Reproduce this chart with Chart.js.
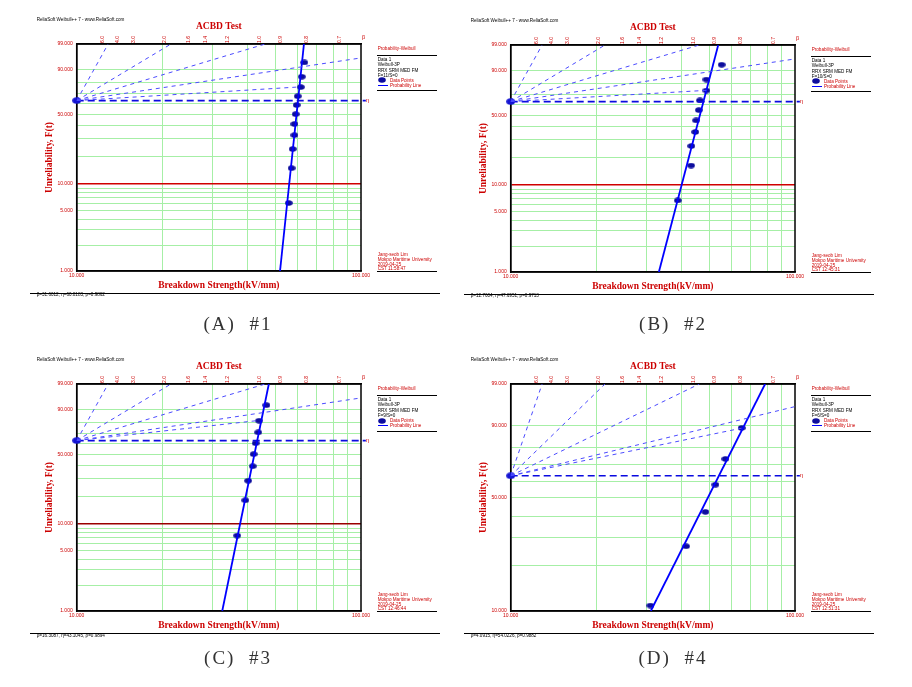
<!DOCTYPE html>
<html><head><meta charset="utf-8">
<script src="https://cdn.jsdelivr.net/npm/chart.js@4.4.1/dist/chart.umd.min.js"></script>
<style>
html,body{margin:0;padding:0;background:#fff}
body{width:912px;height:687px;position:relative;overflow:hidden}
.panel{position:absolute;width:412px;height:300px}
.panel canvas{position:absolute;left:0;top:0}
.s{position:absolute;white-space:nowrap;font-family:'Liberation Sans',Arial,sans-serif;font-size:4.6px;line-height:5px;color:#000}
.r{color:#cc0000}
.hr{position:absolute;height:0;border-top:1.3px solid #000}
.cap{position:absolute;width:200px;text-align:center;font-family:'Liberation Serif','DejaVu Serif',serif;font-size:19px;line-height:24px;color:#333;letter-spacing:2px}
</style></head><body>
<div class="panel" id="pA" style="left:30px;top:10px"><canvas id="cA" width="412" height="290"></canvas></div>
<div class="panel" id="pB" style="left:464px;top:11px"><canvas id="cB" width="412" height="290"></canvas></div>
<div class="panel" id="pC" style="left:30px;top:350.3px"><canvas id="cC" width="412" height="290"></canvas></div>
<div class="panel" id="pD" style="left:464px;top:350.3px"><canvas id="cD" width="412" height="290"></canvas></div>
<div class="cap" style="left:138px;top:312px">(A)&nbsp; #1</div>
<div class="cap" style="left:573px;top:312px">(B)&nbsp; #2</div>
<div class="cap" style="left:138px;top:645.5px">(C)&nbsp; #3</div>
<div class="cap" style="left:573px;top:645.5px">(D)&nbsp; #4</div>
<script>
const SERIF = "'Liberation Serif', 'Times New Roman', serif";
const SANS = "'Liberation Sans', Arial, sans-serif";
const GREEN = '#a6efa6';
const RED = '#cc0000';

// ---- shared scale values ----
const betaTicks = [6.0, 4.0, 3.0, 2.0, 1.6, 1.4, 1.2, 1.0, 0.9, 0.8, 0.7];
const betaGuides = [6.0, 2.0, 1.0, 0.5];
const xGrid = [10, 20, 30, 40, 50, 60, 70, 80, 90, 100];
const xTickLabels = ['10.000', '', '', '', '', '', '', '', '', '100.000'];
const yGridFull = [1, 2, 3, 4, 5, 6, 7, 8, 9, 10, 20, 30, 40, 50, 60, 70, 80, 90, 99];
const yLabelFull = [1, 5, 10, 50, 90, 99];
const yGridUpper = [10, 20, 30, 40, 50, 60, 70, 80, 90, 99];
const yLabelUpper = [10, 50, 90, 99];

// ---- (A) #1 ----
const a_strength = [63.2, 61.9, 61.4, 59.9, 59.4, 58.9, 58.3, 58.3, 57.5, 57.0, 55.7];
const a_unrel    = [93.9, 85.1, 76.3, 67.5, 58.8, 50.0, 41.2, 32.5, 23.7, 14.9, 6.1];
const a_fitX = [51.9, 63.0];
const a_fitF = [1, 99];
const a_guideEnd = [60.5, 76.4];
// ---- (B) #2 ----
const b_strength = [55.2, 48.8, 48.8, 46.3, 45.9, 44.9, 44.6, 43.2, 43.1, 38.7];
const b_unrel    = [93.3, 83.7, 74.0, 64.4, 54.8, 45.2, 35.6, 26.0, 16.3, 6.7];
const b_fitX = [33.2, 53.7];
const b_fitF = [1, 99];
const b_guideEnd = [48.9, 74.2];
// ---- (C) #3 ----
const c_strength = [46.5, 43.8, 43.5, 42.6, 41.9, 41.6, 40.1, 39.2, 36.7];
const c_unrel    = [92.6, 81.9, 71.3, 60.6, 50.0, 39.4, 28.7, 18.1, 7.4];
const c_fitX = [32.5, 47.4];
const c_fitF = [1, 99];
const c_guideEnd = [44.0, 82.2];
// ---- (D) #4 ----
const d_strength = [64.9, 56.9, 52.5, 48.4, 41.4, 31.0];
const d_unrel    = [89.1, 73.4, 57.8, 42.2, 26.6, 10.9];
const d_fitX = [31.1, 78.5];
const d_fitF = [10, 99];
const d_guideEnd = [64.9, 89.0];

// Weibull probability transform for the y axis
const W = F => Math.log(-Math.log(1 - F / 100));

function ellipse(w, h, color) {
  const c = document.createElement('canvas'); c.width = w; c.height = h;
  const g = c.getContext('2d'); g.fillStyle = color;
  g.beginPath(); g.ellipse(w / 2, h / 2, w / 2 - 0.2, h / 2 - 0.2, 0, 0, Math.PI * 2); g.fill();
  return c;
}
const dotImg = ellipse(8, 6, '#0d0d9e');
const pivotImg = ellipse(9, 7, '#1414d2');

const framePlugin = {
  id: 'frame',
  beforeDatasetsDraw(chart) {
    const {ctx, chartArea: a} = chart;
    ctx.save(); ctx.strokeStyle = '#000'; ctx.lineWidth = 1.5;
    ctx.strokeRect(a.left, a.top, a.right - a.left, a.bottom - a.top);
    ctx.restore();
  }
};

const panels = [
  {div: 'pA', canvas: 'cA', x: a_strength, F: a_unrel, fitX: a_fitX, fitF: a_fitF, guide: a_guideEnd,
   yRange: [1, 99], yGrid: yGridFull, yLabels: yLabelFull, redF: 10, redColor: '#d00000',
   fs: 'F=11/S=0', time: 'CST 11:58:47', foot: 'β=31.6012, η=60.0183, ρ=0.9862'},
  {div: 'pB', canvas: 'cB', x: b_strength, F: b_unrel, fitX: b_fitX, fitF: b_fitF, guide: b_guideEnd,
   yRange: [1, 99], yGrid: yGridFull, yLabels: yLabelFull, redF: 10, redColor: '#d00000',
   fs: 'F=10/S=0', time: 'CST 12:45:31', foot: 'β=12.7604, η=47.6951, ρ=0.9713'},
  {div: 'pC', canvas: 'cC', x: c_strength, F: c_unrel, fitX: c_fitX, fitF: c_fitF, guide: c_guideEnd,
   yRange: [1, 99], yGrid: yGridFull, yLabels: yLabelFull, redF: 10, redColor: '#9a0000',
   fs: 'F=9/S=0', time: 'CST 12:46:44', foot: 'β=16.3087, η=43.1045, ρ=0.9894'},
  {div: 'pD', canvas: 'cD', x: d_strength, F: d_unrel, fitX: d_fitX, fitF: d_fitF, guide: d_guideEnd,
   yRange: [10, 99], yGrid: yGridUpper, yLabels: yLabelUpper, redF: null, redColor: null,
   fs: 'F=6/S=0', time: 'CST 12:51:31', foot: 'β=4.0915, η=54.0226, ρ=0.9882'}
];

function txt(parent, s, left, top, cls) {
  const d = document.createElement('div');
  d.className = 's' + (cls ? ' ' + cls : '');
  d.textContent = s; d.style.left = left + 'px'; d.style.top = top + 'px';
  parent.appendChild(d); return d;
}
function hr(parent, left, top, width) {
  const d = document.createElement('div'); d.className = 'hr';
  d.style.left = left + 'px'; d.style.top = top + 'px'; d.style.width = width + 'px';
  parent.appendChild(d);
}

function build(P) {
  const yMin = W(P.yRange[0]), yMax = W(P.yRange[1]);
  const isRed = v => P.redF != null && Math.abs(v - W(P.redF)) < 1e-9;
  const ds = [];
  betaGuides.forEach(b => {
    const xe = Math.min(100, 10 * Math.exp(W(99) / b));
    ds.push({type: 'line', data: [{x: 10, y: 0}, {x: xe, y: b * Math.log(xe / 10)}],
      borderColor: '#4b4bff', borderWidth: 1, borderDash: [4, 4], pointRadius: 0, xAxisID: 'x', yAxisID: 'y'});
  });
  ds.push({type: 'line', data: [{x: 10, y: 0}, {x: P.guide[0], y: W(P.guide[1])}],
    borderColor: '#4b4bff', borderWidth: 1, borderDash: [4, 4], pointRadius: 0, xAxisID: 'x', yAxisID: 'y'});
  ds.push({type: 'line', data: [{x: 10, y: 0}, {x: 104, y: 0}], clip: false,
    borderColor: '#0a0ae0', borderWidth: 1.7, borderDash: [7, 4], pointRadius: 0, xAxisID: 'x', yAxisID: 'y'});
  ds.push({type: 'line', data: P.fitX.map((v, i) => ({x: v, y: W(P.fitF[i])})),
    borderColor: '#0000ff', borderWidth: 1.8, pointRadius: 0, xAxisID: 'x', yAxisID: 'y'});
  ds.push({type: 'line', data: P.x.map((v, i) => ({x: v, y: W(P.F[i])})), showLine: false, clip: false,
    pointStyle: dotImg, pointRadius: 4, xAxisID: 'x', yAxisID: 'y'});
  ds.push({type: 'line', data: [{x: 10, y: 0}], showLine: false, clip: false,
    pointStyle: pivotImg, pointRadius: 4, xAxisID: 'x', yAxisID: 'y'});

  const titleFont = {family: SERIF, size: 9.5, weight: 'bold'};
  const tickFont = {family: SANS, size: 5};
  const chart = new Chart(document.getElementById(P.canvas), {
    type: 'line',
    data: {datasets: ds},
    plugins: [framePlugin],
    options: {
      responsive: false, animation: false, events: [],
      layout: {padding: {left: 0, right: 81, top: 0, bottom: 0}},
      plugins: {
        legend: {display: false}, tooltip: {enabled: false},
        title: {display: true, text: 'ACBD Test', color: RED, font: titleFont,
          padding: {top: 11.3, bottom: 0}, fullSize: false}
      },
      scales: {
        x: {type: 'logarithmic', position: 'bottom', min: 10, max: 100,
          afterBuildTicks: s => { s.ticks = xGrid.map(v => ({value: v})); },
          afterFit: s => { s.height = 29; },
          grid: {color: c => (c.index === 0 || c.index === xGrid.length - 1) ? 'rgba(0,0,0,0)' : GREEN, lineWidth: 1, drawTicks: false},
          border: {display: true, color: '#000', width: 1.5},
          ticks: {autoSkip: false, maxRotation: 0, minRotation: 0, padding: 2, color: RED, font: tickFont,
            callback: (v, i) => xTickLabels[i]},
          title: {display: true, text: 'Breakdown Strength(kV/mm)', color: RED, font: titleFont, padding: {top: 0, bottom: 8.6}}
        },
        xTop: {type: 'logarithmic', position: 'top', min: 10, max: 100,
          afterBuildTicks: s => { s.ticks = betaTicks.map(b => ({value: 10 * Math.exp(W(99) / b)})); },
          afterFit: s => { s.height = 11.3; },
          grid: {display: false, drawTicks: false},
          border: {display: true, color: '#000', width: 1.5},
          ticks: {autoSkip: false, minRotation: 90, maxRotation: 90, padding: 1, color: RED, font: tickFont,
            callback: (v, i) => betaTicks[i].toFixed(1)}
        },
        y: {type: 'linear', position: 'left', min: yMin, max: yMax,
          afterBuildTicks: s => { s.ticks = P.yGrid.map(f => ({value: W(f)})); },
          afterFit: s => { s.width = 46.7; },
          grid: {
            color: c => {
              if (!c.tick) return GREEN;
              if (c.index === 0 || c.index === P.yGrid.length - 1) return 'rgba(0,0,0,0)';
              return isRed(c.tick.value) ? P.redColor : GREEN;
            },
            lineWidth: c => (c.tick && isRed(c.tick.value)) ? 1.6 : 1,
            drawTicks: false
          },
          border: {display: true, color: '#000', width: 1.5},
          ticks: {autoSkip: false, padding: 4, color: RED, font: tickFont,
            callback: (v, i) => P.yLabels.includes(P.yGrid[i]) ? P.yGrid[i].toFixed(3) : ''},
          title: {display: true, text: 'Unreliability, F(t)', color: RED, font: titleFont, padding: {top: 14.3, bottom: 0}}
        }
      }
    }
  });

  // annotations around the plot (real text)
  const div = document.getElementById(P.div);
  const a = chart.chartArea;
  txt(div, 'ReliaSoft Weibull++ 7 - www.ReliaSoft.com', 6.7, 6.5);
  const lx = 347.7;
  txt(div, 'Probability-Weibull', lx, 35.5, 'r');
  hr(div, lx - 1, 45, 60);
  txt(div, 'Data 1', lx, 47.2);
  txt(div, 'Weibull-3P', lx, 52.2);
  txt(div, 'RRX SRM MED FM', lx, 57.5);
  txt(div, P.fs, lx, 62.8);
  const dot = document.createElement('canvas'); dot.width = 8; dot.height = 6;
  dot.getContext('2d').drawImage(dotImg, 0, 0);
  dot.style.cssText = 'position:absolute;left:348px;top:67.3px';
  div.appendChild(dot);
  txt(div, 'Data Points', lx + 12.3, 67.8, 'r');
  const ln = document.createElement('div');
  ln.style.cssText = 'position:absolute;left:348px;top:74.7px;width:10px;border-top:1.3px solid #0000ff';
  div.appendChild(ln);
  txt(div, 'Probability Line', lx + 12.3, 72.8, 'r');
  hr(div, lx - 1, 80.3, 60);
  txt(div, 'Jang-seob Lim', lx, 241.8, 'r');
  txt(div, 'Mokpo Maritime University', lx, 246.8, 'r');
  txt(div, '2019-04-25', lx, 251.5, 'r');
  txt(div, P.time, lx, 256.2, 'r');
  hr(div, lx - 1, 260.6, 60);
  hr(div, 0, 282.6, 410);
  txt(div, P.foot, 6.7, 282.3);
  const yEta = chart.scales.y.getPixelForValue(0);
  txt(div, 'η', a.right + 5, yEta - 2.8, 'r').style.fontSize = '5.5px';
  txt(div, 'β', a.right + 1, a.top - 9, 'r').style.fontSize = '5.5px';
}

panels.forEach(build);
</script>
</body></html>
